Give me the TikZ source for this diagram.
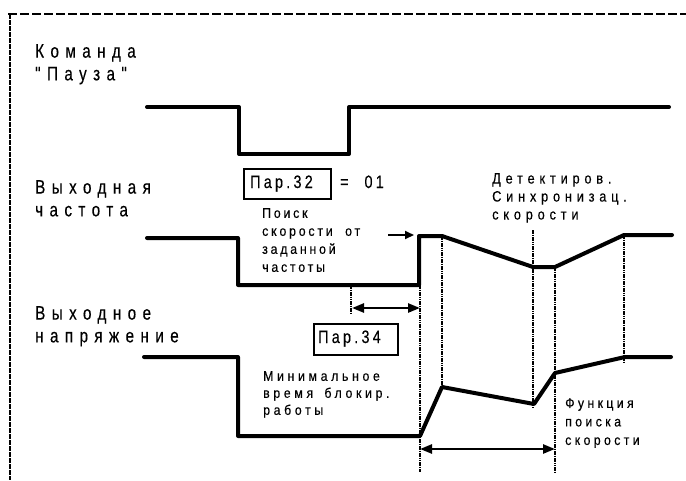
\documentclass[tikz,border=0pt]{standalone}
\usepackage{fontspec}
\setmainfont{Liberation Sans}
\usetikzlibrary{arrows.meta}
\newfontfamily\ffbig[FakeStretch=0.78,LetterSpace=33,WordSpace=1.6,FakeBold=0.3]{Liberation Sans}
\newfontfamily\ffpar[FakeStretch=0.8,LetterSpace=18,WordSpace=2.2,FakeBold=0.3]{Liberation Sans}
\newfontfamily\ffmid[FakeStretch=0.85,LetterSpace=32,WordSpace=1.6,FakeBold=0.3]{Liberation Sans}
\newfontfamily\ffsmall[FakeStretch=0.88,LetterSpace=20,WordSpace=2,FakeBold=0.3]{Liberation Sans}
\newfontfamily\ffsmallb[FakeStretch=0.88,LetterSpace=26,WordSpace=1.6,FakeBold=0.3]{Liberation Sans}
\newfontfamily\ffsmallc[FakeStretch=0.88,LetterSpace=24,WordSpace=1.6,FakeBold=0.3]{Liberation Sans}
\newcommand\fbig{\ffbig\fontsize{19.5}{22.7}\selectfont}
\newcommand\fpar{\ffpar\fontsize{18}{22}\selectfont}
\newcommand\fmid{\ffmid\fontsize{15}{18}\selectfont}
\newcommand\fsmall{\ffsmall\fontsize{14}{18}\selectfont}
\newcommand\fsmallb{\ffsmallb\fontsize{14}{17}\selectfont}
\newcommand\fsmallc{\ffsmallc\fontsize{14}{18.5}\selectfont}
\begin{document}
\begin{tikzpicture}[x=1pt,y=-1pt,
  wave/.style={line width=4pt,line cap=round,line join=round},
  guide/.style={line width=1.8pt,dash pattern=on 1.6pt off 0.7pt},
  dimarrow/.style={line width=2.5pt,{Triangle[length=12pt,width=9pt]}-{Triangle[length=12pt,width=9pt]}},
  lbl/.style={anchor=north west,inner sep=0pt,align=left},
  partext/.style={anchor=base west,inner sep=0pt,font=\fpar},
  parbox/.style={draw,line width=1.5pt,inner sep=0pt,minimum width=#1,minimum height=30pt,anchor=north west}]
\useasboundingbox (0,0) rectangle (686,480);
% frame
\draw[line width=2pt,dash pattern=on 9pt off 3pt] (8,14) -- (686,14);
\draw[line width=2.5pt,dash pattern=on 5pt off 1pt] (10,14) -- (10,480);
% labels
\node[lbl,font=\fbig] (cmd) at (35,44) {Команда\\"Пауза"};
\node[lbl,font=\fbig] (fout) at (35,180) {Выходная\\частота};
\node[lbl,font=\fbig] (uout) at (35,306) {Выходное\\напряжение};
% command waveform
\coordinate (c0) at (147,107); \coordinate (c1) at (239,107);
\coordinate (c2) at (239,154); \coordinate (c3) at (349,154);
\coordinate (c4) at (349,107); \coordinate (c5) at (669,107);
\draw[wave] (c0) -- (c1) -- (c2) -- (c3) -- (c4) -- (c5);
% frequency waveform
\coordinate (f0) at (147,238); \coordinate (f1) at (238,238);
\coordinate (f2) at (238,285); \coordinate (f3) at (419,285);
\coordinate (f4) at (419,236); \coordinate (f5) at (442,236);
\coordinate (f6) at (533,267); \coordinate (f7) at (555,267);
\coordinate (f8) at (624,235); \coordinate (f9) at (672,235);
\draw[wave] (f0) -- (f1) -- (f2) -- (f3) -- (f4) -- (f5) -- (f6) -- (f7) -- (f8) -- (f9);
% voltage waveform
\coordinate (v0) at (144,357); \coordinate (v1) at (238,357);
\coordinate (v2) at (238,436); \coordinate (v3) at (420,436);
\coordinate (v4) at (442,387); \coordinate (v5) at (534,404);
\coordinate (v6) at (555,373); \coordinate (v7) at (625,357);
\coordinate (v8) at (671,357);
\draw[wave] (v0) -- (v1) -- (v2) -- (v3) -- (v4) -- (v5) -- (v6) -- (v7) -- (v8);
% guides
\coordinate (g1a) at (351,285); \coordinate (g1b) at (351,313);
\coordinate (g2a) at (420,285); \coordinate (g2b) at (420,472);
\coordinate (g3a) at (442,236); \coordinate (g3b) at (442,387);
\coordinate (g4a) at (533,230); \coordinate (g4b) at (533,408);
\coordinate (g5a) at (555,267); \coordinate (g5b) at (555,472);
\coordinate (g6a) at (624,235); \coordinate (g6b) at (624,362);
\foreach \g in {1,...,6} {\draw[guide] (g\g a) -- (g\g b);}
% arrows
\coordinate (a1) at (352,308); \coordinate (a2) at (420,308);
\draw[dimarrow] (a1) -- (a2);
\coordinate (b1) at (420,449); \coordinate (b2) at (555,449);
\draw[dimarrow] (b1) -- (b2);
\coordinate (s1) at (388,235); \coordinate (s2) at (414,235);
\draw[line width=2pt,-{Triangle[length=9pt,width=8pt]}] (s1) -- (s2);
% parameter boxes
\node[parbox=87pt] (p32) at (243,168) {};
\node[partext] (p32t) at (250,188) {Пар.32};
\node[partext] (eq) at (340,188) {= 01};
\node[parbox=84pt,minimum height=31pt] (p34) at (313,323) {};
\node[partext] (p34t) at (318,343) {Пар.34};
% texts
\node[lbl,font=\fsmall] (search) at (262,208) {Поиск\\скорости от\\заданной\\частоты};
\node[lbl,font=\fsmallb] (minb) at (263,371) {Минимальное\\время блокир.\\работы};
\node[lbl,font=\fmid] (det) at (492,173) {Детектиров.\\Синхронизац.\\скорости};
\node[lbl,font=\fsmallc] (func) at (565,398) {Функция\\поиска\\скорости};
\end{tikzpicture}
\end{document}
